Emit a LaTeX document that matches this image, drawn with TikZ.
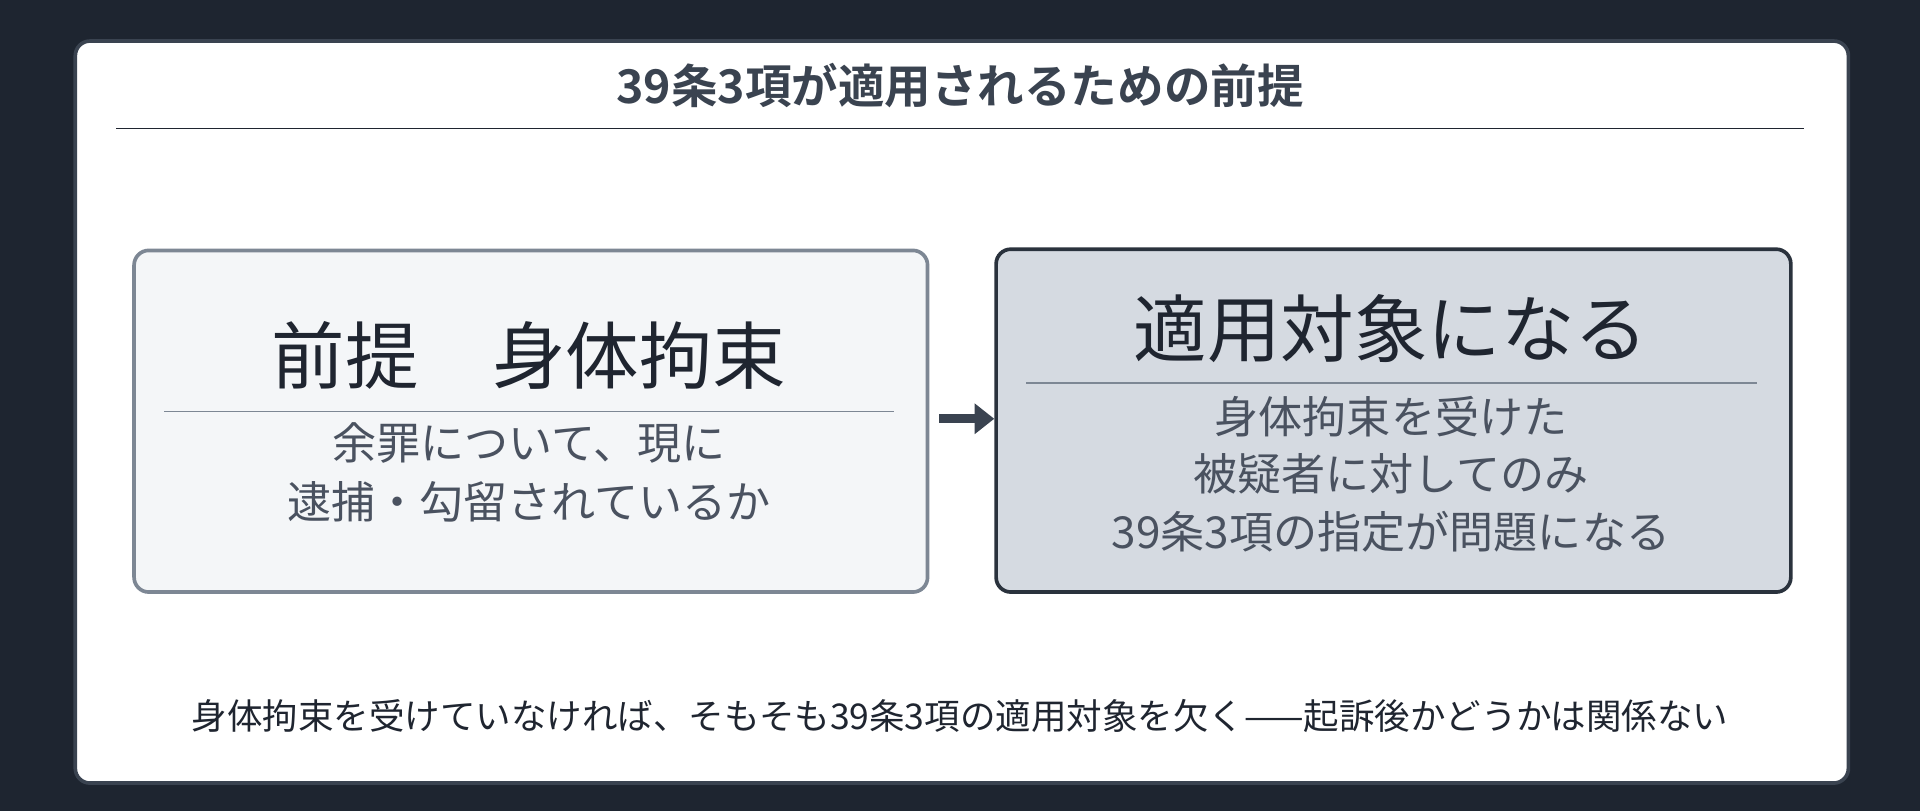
\documentclass[tikz,border=0pt]{standalone}
\usepackage{fontspec}
\usetikzlibrary{arrows.meta}
\setmainfont{Noto Sans CJK JP}[BoldFont={Noto Sans CJK JP Bold}]
\definecolor{bg}{HTML}{1E2530}
\definecolor{cardb}{HTML}{3A4350}
\definecolor{lfill}{HTML}{F4F6F8}
\definecolor{lbord}{HTML}{7D8794}
\definecolor{rfill}{HTML}{D5DAE1}
\definecolor{rbord}{HTML}{2A323D}
\definecolor{txt}{HTML}{1F2530}
\definecolor{sub}{HTML}{4A5260}
\begin{document}
\begin{tikzpicture}[x=1pt,y=-1pt,
  box/.style={draw, line width=3pt, rounded corners=12pt},
  big/.style={font=\fontsize{60}{66}\selectfont, text=txt},
  small/.style={font=\fontsize{36}{48}\selectfont, text=sub, align=center},
  rule/.style={line width=1.5pt}]
\useasboundingbox (0,0) rectangle (1568,662);
\fill[bg] (0,0) rectangle (1568,662);
\node[box, draw=cardb, fill=white, minimum width=1448pt, minimum height=606pt, anchor=north west] (card) at (60,32) {};
\node[font=\bfseries\fontsize{38}{42}\selectfont, text=cardb] (title) at (784,70) {39条3項が適用されるための前提};
\draw[rule, txt] (95,105) -- (1473,105);
\node[box, draw=lbord, fill=lfill, minimum width=648pt, minimum height=279pt, anchor=north west] (L) at (108,203) {};
\node[big] (Lt) at (432,290) {前提　身体拘束};
\draw[rule, lbord] (134,336) -- (730,336);
\node[small] (Ls) at (432,386) {余罪について、現に\\逮捕・勾留されているか};
\node[box, draw=rbord, fill=rfill, minimum width=649pt, minimum height=280pt, anchor=north west] (R) at (812,202) {};
\node[big] (Rt) at (1136,268) {適用対象になる};
\draw[rule, lbord] (838,313) -- (1435,313);
\node[small, font=\fontsize{36}{47}\selectfont] (Rs) at (1136,387) {身体拘束を受けた\\被疑者に対してのみ\\39条3項の指定が問題になる};
\coordinate (a1) at (767,342);
\coordinate (a2) at (812,342);
\draw[line width=7pt, cardb, -{Triangle[length=16pt,width=24pt]}] (a1) -- (a2);
\node[font=\fontsize{29}{32}\selectfont, text=txt] (foot) at (784,585) {身体拘束を受けていなければ、そもそも39条3項の適用対象を欠く——起訴後かどうかは関係ない};
\end{tikzpicture}
\end{document}
